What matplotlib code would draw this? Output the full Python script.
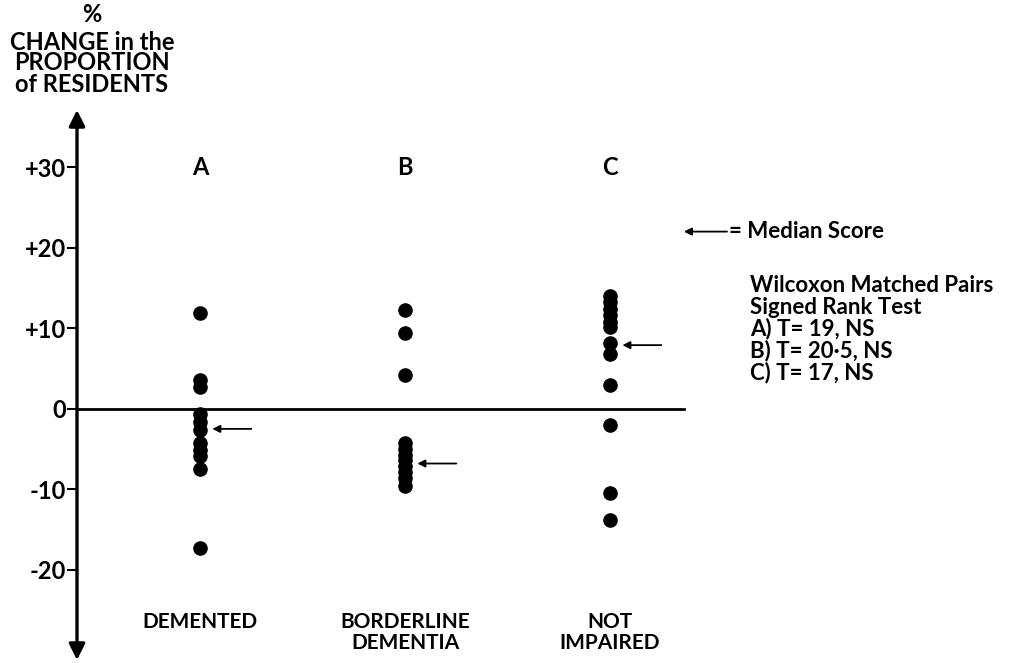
import numpy as np
import matplotlib
matplotlib.use("Agg")
import matplotlib.pyplot as plt

# values
groups = ["A", "B", "C"]
group_names = ["DEMENTED", "BORDERLINE\nDEMENTIA", "NOT\nIMPAIRED"]
scores_a = [11.9, 3.6, 2.7, -0.6, -1.6, -2.6, -4.3, -5.1, -5.9, -7.5, -17.3]
scores_b = [12.3, 9.4, 4.2, -4.3, -5.0, -5.7, -6.4, -7.1, -7.8, -8.6, -9.6]
scores_c = [14.0, 13.2, 12.4, 11.6, 10.8, 10.2, 8.2, 6.8, 3.0, -2.0, -10.4, -13.8]
medians = [-2.5, -6.8, 7.9]
yticks = [30, 20, 10, 0, -10, -20]
ytick_labels = ["+30", "+20", "+10", "0", "-10", "-20"]
stats_lines = ["Wilcoxon Matched Pairs", "Signed Rank Test",
               "A) T= 19, NS", "B) T= 20\u00b75, NS", "C) T= 17, NS"]
ylabel_lines = ["%", "CHANGE in the", "PROPORTION", "of RESIDENTS"]
ylabel_rows = [15, 42, 63, 84]

plt.rcParams["font.family"] = ["Lato", "DejaVu Sans"]
W, H = 1012, 663

fig = plt.figure(figsize=(W / 100, H / 100), dpi=100)
ax = fig.add_axes([77 / W, 3 / H, 935 / W, 550 / H])
ax.set_xlim(0.4, 4.96)
ax.set_ylim(-31.2, 37.1)

for sp in ax.spines.values():
    sp.set_visible(False)
ax.set_xticks([])
ax.set_yticks(yticks)
ax.set_yticklabels(ytick_labels, fontsize=17, fontweight="bold")
ax.tick_params(axis="y", length=7, width=1.5, pad=1)

# double-headed vertical axis
ax.annotate("", xy=(0.4, 37.1), xytext=(0.4, -31.2),
            arrowprops=dict(arrowstyle="<|-|>", lw=2.4, color="black",
                            mutation_scale=24, shrinkA=0, shrinkB=0))
ax.plot([0.4, 3.36], [0, 0], color="black", lw=2)

data = [scores_a, scores_b, scores_c]
for i, vals in enumerate(data):
    x = i + 1
    ax.scatter([x] * len(vals), vals, s=90, color="black", zorder=3)
    ax.text(x, 30, groups[i], ha="center", va="center", fontsize=17, fontweight="bold")
    ax.text(x, -25.3, group_names[i], ha="center", va="top", fontsize=15,
            fontweight="bold", linespacing=1.05)
    ax.annotate("", xy=(x + 0.06, medians[i]), xytext=(x + 0.25, medians[i]),
                arrowprops=dict(arrowstyle="-|>", lw=1.3, color="black",
                                mutation_scale=11, shrinkA=0, shrinkB=0))

# legend for the median arrow
ax.annotate("", xy=(3.36, 22), xytext=(3.57, 22),
            arrowprops=dict(arrowstyle="-|>", lw=1.3, color="black",
                            mutation_scale=11, shrinkA=0, shrinkB=0))
ax.text(3.58, 22, "= Median Score", ha="left", va="center", fontsize=16, fontweight="bold")

# test results block, one line every 22 px
for k, line in enumerate(stats_lines):
    fig.text(750 / W, 1 - (285 + 22 * k) / H, line, ha="left", va="center",
             fontsize=16, fontweight="bold")

# y label stacked above the axis
for line, row in zip(ylabel_lines, ylabel_rows):
    fig.text(92 / W, 1 - row / H, line, ha="center", va="center",
             fontsize=17, fontweight="bold")

fig.savefig("out.png", dpi=100)
